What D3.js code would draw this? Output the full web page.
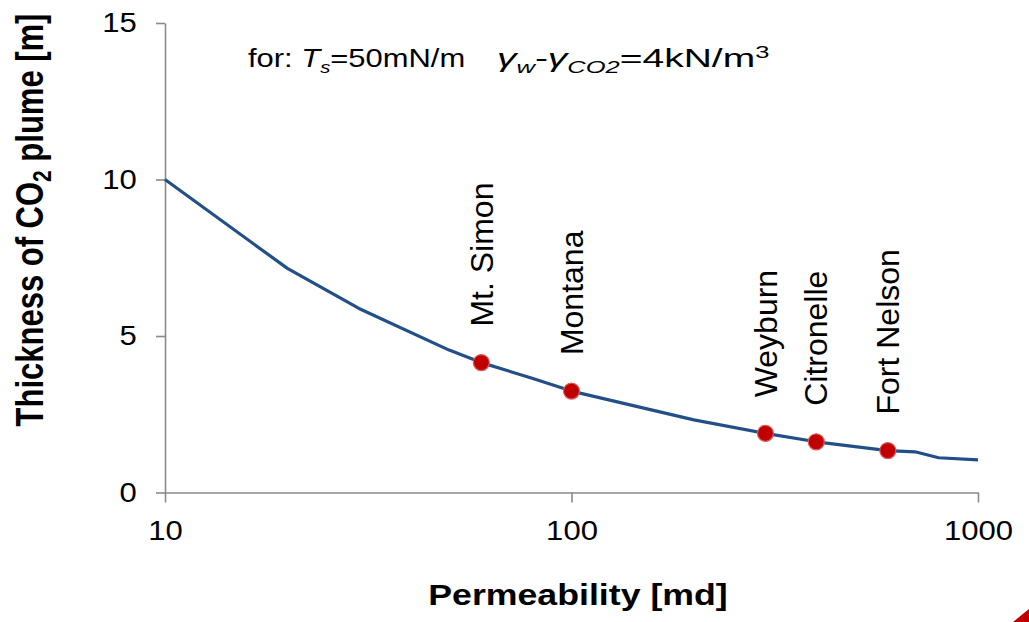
<!DOCTYPE html>
<html>
<head>
<meta charset="utf-8">
<script src="https://cdn.jsdelivr.net/npm/d3@7"></script>
<style>
  body { margin: 0; background: #fff; }
  text { font-family: Arial, "Liberation Sans", sans-serif; fill: #000; }
</style>
</head>
<body>
<script>

// curve: permeability [md] vs plume thickness [m]
var perm  = [10, 20, 30, 50, 60, 80, 100, 200, 300, 400, 600, 700, 800, 1000];
var thick = [10.0, 7.16, 5.88, 4.55, 4.15, 3.65, 3.24, 2.32, 1.89, 1.62, 1.34, 1.30, 1.11, 1.04];

// sites marked on the curve
var sites     = ["Mt. Simon", "Montana", "Weyburn", "Citronelle", "Fort Nelson"];
var sitePerm  = [60, 100, 300, 400, 600];
var siteThick = [4.15, 3.24, 1.89, 1.62, 1.34];

var xTicks = [10, 100, 1000];
var yTicks = [0, 5, 10, 15];

var width = 1029,
    height = 622;

var x = d3.scaleLog()
    .domain([10, 1000])
    .range([165, 978]);

var y = d3.scaleLinear()
    .domain([0, 15])
    .range([492.5, 23]);

var svg = d3.select("body").append("svg")
    .attr("width", width)
    .attr("height", height);

svg.append("g")
    .attr("transform", "translate(0," + y(0) + ")")
    .call(d3.axisBottom(x)
      .tickValues(xTicks)
      .tickFormat(d3.format("d"))
      .tickSize(10)
      .tickSizeOuter(0)
      .tickPadding(18));

svg.append("g")
    .attr("transform", "translate(" + x(10) + ",0)")
    .call(d3.axisLeft(y)
      .tickValues(yTicks)
      .tickSize(9)
      .tickSizeOuter(0)
      .tickPadding(15.5));

svg.selectAll(".domain, .tick line")
    .attr("stroke", "#8a8a8a")
    .attr("stroke-width", 1.6);

svg.selectAll(".tick text")
    .attr("font-family", "Arial, 'Liberation Sans', sans-serif")
    .attr("font-size", 27)
    .attr("fill", "#000")
    .attr("transform", "scale(1.15,1)");

var line = d3.line()
    .x(function(d) { return x(d[0]); })
    .y(function(d) { return y(d[1]); });

svg.append("path")
    .datum(d3.zip(perm, thick))
    .attr("d", line)
    .attr("fill", "none")
    .attr("stroke", "#224f88")
    .attr("stroke-width", 3.2)
    .attr("stroke-linejoin", "round");

var site = svg.selectAll(".site")
    .data(d3.range(sites.length))
  .enter().append("g")
    .attr("class", "site");

site.append("circle")
    .attr("cx", function(i) { return x(sitePerm[i]); })
    .attr("cy", function(i) { return y(siteThick[i]); })
    .attr("r", 8)
    .attr("fill", "#c00000")
    .attr("stroke", "#dc5a5a")
    .attr("stroke-width", 1.2);

site.append("text")
    .attr("transform", function(i) {
      return "translate(" + x(sitePerm[i]) + "," + (y(siteThick[i]) - 36) + ") rotate(-90)";
    })
    .attr("dy", "0.35em")
    .attr("font-size", 32)
    .text(function(i) { return sites[i]; });

// axis titles
svg.append("text")
    .attr("transform", "translate(578,605) scale(1.19,1)")
    .attr("text-anchor", "middle")
    .attr("font-size", 30)
    .attr("font-weight", "bold")
    .text("Permeability [md]");

var yTitle = svg.append("text")
    .attr("transform", "translate(43,220) scale(1.25,1) rotate(-90)")
    .attr("text-anchor", "middle")
    .attr("font-size", 31)
    .attr("font-weight", "bold");
yTitle.append("tspan").text("Thickness of CO");
yTitle.append("tspan").attr("font-size", 21).attr("dy", 6).text("2");
yTitle.append("tspan").attr("dy", -6).text(" plume [m]");

// note on parameters
var note1 = svg.append("text")
    .attr("transform", "translate(248,67) scale(1.19,1)")
    .attr("font-size", 26);
note1.append("tspan").text("for: ");
note1.append("tspan").attr("font-style", "italic").text("T");
note1.append("tspan").attr("font-style", "italic").attr("font-size", 17).attr("dy", 6).text("s");
note1.append("tspan").attr("dy", -6).text("=50mN/m");

var note2 = svg.append("text")
    .attr("transform", "translate(497,67) scale(1.5,1)")
    .attr("font-size", 26);
note2.append("tspan").attr("font-style", "italic").text("γ");
note2.append("tspan").attr("font-style", "italic").attr("font-size", 17).attr("dy", 6).text("w");
note2.append("tspan").attr("dy", -6).text("-");
note2.append("tspan").attr("font-style", "italic").text("γ");
note2.append("tspan").attr("font-style", "italic").attr("font-size", 17).attr("dy", 6).text("CO2");
note2.append("tspan").attr("dy", -6).text("=4kN/m");
note2.append("tspan").attr("font-size", 17).attr("dy", -9).text("3");

// corner decoration
svg.append("path")
    .attr("d", "M1029,609L1029,622L1013,622Z")
    .attr("fill", "#c00000");

</script>
</body>
</html>
